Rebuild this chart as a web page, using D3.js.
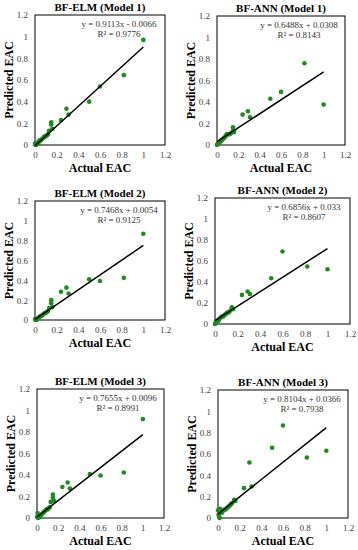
<!DOCTYPE html>
<html>
<head>
<meta charset="utf-8">
<script src="https://cdn.jsdelivr.net/npm/d3@7"></script>
<style>
	body { margin: 0; background: #fff; }
	svg { display: block; }
	text { font-family: "Liberation Serif", "Times New Roman", serif; }
</style>
</head>
<body>
<div id="chart"></div>
<script>

//ACTUAL EAC (SAME TEST SET FOR ALL MODELS)
var actual = [0, 0.005, 0.01, 0.015, 0.02, 0.03, 0.035, 0.04, 0.05, 0.06, 0.07, 0.08, 0.09, 0.1, 0.11, 0.12, 0.13, 0.15, 0.15, 0.16, 0.24, 0.29, 0.31, 0.5, 0.6, 0.82, 1.0];

//PREDICTED EAC, ONE ARRAY PER MODEL
var elm1 = [0.01, 0.005, 0.0, 0.01, 0.02, 0.01, 0.03, 0.04, 0.04, 0.05, 0.06, 0.07, 0.08, 0.08, 0.09, 0.1, 0.13, 0.21, 0.19, 0.15, 0.23, 0.335, 0.28, 0.40, 0.54, 0.645, 0.97];
var ann1 = [0.0, 0.01, 0.01, 0.02, 0.02, 0.03, 0.04, 0.04, 0.05, 0.06, 0.07, 0.08, 0.1, 0.1, 0.1, 0.1, 0.11, 0.165, 0.134, 0.12, 0.283, 0.314, 0.258, 0.43, 0.494, 0.76, 0.376];
var elm2 = [0.01, 0.0, 0.01, 0.0, 0.01, 0.02, 0.02, 0.03, 0.04, 0.04, 0.05, 0.06, 0.07, 0.07, 0.08, 0.09, 0.12, 0.2, 0.17, 0.13, 0.285, 0.326, 0.267, 0.41, 0.394, 0.425, 0.87];
var ann2 = [0.0, 0.01, 0.01, 0.02, 0.03, 0.03, 0.04, 0.05, 0.06, 0.07, 0.07, 0.08, 0.09, 0.1, 0.11, 0.11, 0.12, 0.16, 0.15, 0.14, 0.277, 0.309, 0.285, 0.436, 0.69, 0.547, 0.522];
var elm3 = [0.01, 0.047, 0.0, 0.01, 0.02, 0.01, 0.03, 0.03, 0.04, 0.05, 0.06, 0.07, 0.08, 0.08, 0.09, 0.1, 0.15, 0.218, 0.19, 0.16, 0.289, 0.33, 0.274, 0.41, 0.395, 0.423, 0.92];
var ann3 = [0.072, 0.03, 0.01, 0.0, 0.087, 0.05, 0.05, 0.06, 0.07, 0.08, 0.08, 0.09, 0.1, 0.11, 0.12, 0.13, 0.14, 0.17, 0.16, 0.16, 0.28, 0.52, 0.296, 0.658, 0.867, 0.567, 0.63];

var titles = ["BF-ELM (Model 1)", "BF-ANN (Model 1)", "BF-ELM (Model 2)", "BF-ANN (Model 2)", "BF-ELM (Model 3)", "BF-ANN (Model 3)"];
var slopes = [0.9113, 0.6488, 0.7468, 0.6856, 0.7655, 0.8104];
var intercepts = [-0.0066, 0.0308, 0.0054, 0.033, 0.0096, 0.0366];
var equations = ["y = 0.9113x - 0.0066", "y = 0.6488x + 0.0308", "y = 0.7468x + 0.0054", "y = 0.6856x + 0.033", "y = 0.7655x + 0.0096", "y = 0.8104x + 0.0366"];
var r2 = ["R\u00b2 = 0.9776", "R\u00b2 = 0.8143", "R\u00b2 = 0.9125", "R\u00b2 = 0.8607", "R\u00b2 = 0.8991", "R\u00b2 = 0.7938"];

var tickValues = [0, 0.2, 0.4, 0.6, 0.8, 1, 1.2];
var tickLabels = ["0", "0.2", "0.4", "0.6", "0.8", "1", "1.2"];

var predicted = [elm1, ann1, elm2, ann2, elm3, ann3];

//PLOT BOX OF EACH PANEL (left, top, right, bottom)
var boxes = [
	[35, 15, 165, 145],
	[217, 16, 345, 145],
	[35, 201, 165, 320],
	[215, 198, 350, 324],
	[37, 389, 164, 518],
	[218, 390, 348, 518]
];

var GREEN = "#1f8a1f";
var TICK_COLOR = "#404040";

var svg = d3.select("#chart")
	.append("svg")
	.attr("width", 358)
	.attr("height", 550);

predicted.forEach(function(pred, i){
	var b = boxes[i];
	var x = d3.scaleLinear().domain([0, 1.2]).range([b[0], b[2]]);
	var y = d3.scaleLinear().domain([0, 1.2]).range([b[3], b[1]]);
	var g = svg.append("g");

	//AXES (LABELS ONLY, NO TICK MARKS)
	var xa = g.append("g")
		.attr("transform", "translate(0," + b[3] + ")")
		.call(d3.axisBottom(x).tickValues(tickValues).tickSize(0).tickPadding(7)
			.tickFormat(function(d, j){ return tickLabels[j]; }));
	var ya = g.append("g")
		.attr("transform", "translate(" + b[0] + ",0)")
		.call(d3.axisLeft(y).tickValues(tickValues).tickSize(0).tickPadding(7)
			.tickFormat(function(d, j){ return tickLabels[j]; }));
	[xa, ya].forEach(function(a){
		a.select(".domain").remove();
		a.selectAll("text")
			.attr("font-family", "Liberation Serif")
			.attr("font-size", 9)
			.attr("fill", TICK_COLOR);
	});

	//BORDER
	g.append("rect")
		.attr("x", b[0])
		.attr("y", b[1])
		.attr("width", b[2] - b[0])
		.attr("height", b[3] - b[1])
		.attr("fill", "none")
		.attr("stroke", "#000")
		.attr("stroke-width", 1);

	//POINTS
	g.selectAll("circle")
		.data(pred)
		.enter()
		.append("circle")
		.attr("cx", function(d, j){ return x(actual[j]); })
		.attr("cy", function(d){ return y(d); })
		.attr("r", 2.3)
		.attr("fill", GREEN);

	//TRENDLINE
	var ext = d3.extent(actual);
	g.append("line")
		.attr("x1", x(ext[0]))
		.attr("y1", y(slopes[i] * ext[0] + intercepts[i]))
		.attr("x2", x(ext[1]))
		.attr("y2", y(slopes[i] * ext[1] + intercepts[i]))
		.attr("stroke", "#000")
		.attr("stroke-width", 1.5);

	//EQUATION
	var ex = b[2] - 46;
	g.append("text")
		.attr("x", ex)
		.attr("y", b[1] + 12)
		.attr("text-anchor", "middle")
		.attr("font-size", 9)
		.attr("fill", "#333")
		.text(equations[i]);
	g.append("text")
		.attr("x", ex)
		.attr("y", b[1] + 22)
		.attr("text-anchor", "middle")
		.attr("font-size", 9)
		.attr("fill", "#333")
		.text(r2[i]);

	//TITLES
	g.append("text")
		.attr("x", (b[0] + b[2]) / 2)
		.attr("y", b[1] - 4)
		.attr("text-anchor", "middle")
		.attr("font-size", 11)
		.attr("font-weight", "bold")
		.text(titles[i]);

	g.append("text")
		.attr("x", (b[0] + b[2]) / 2)
		.attr("y", b[3] + 27)
		.attr("text-anchor", "middle")
		.attr("font-size", 12)
		.attr("font-weight", "bold")
		.text("Actual EAC");

	g.append("text")
		.attr("transform", "translate(" + (b[0] - 22) + "," + ((b[1] + b[3]) / 2) + ") rotate(-90)")
		.attr("text-anchor", "middle")
		.attr("font-size", 12)
		.attr("font-weight", "bold")
		.text("Predicted EAC");
});

</script>
</body>
</html>
